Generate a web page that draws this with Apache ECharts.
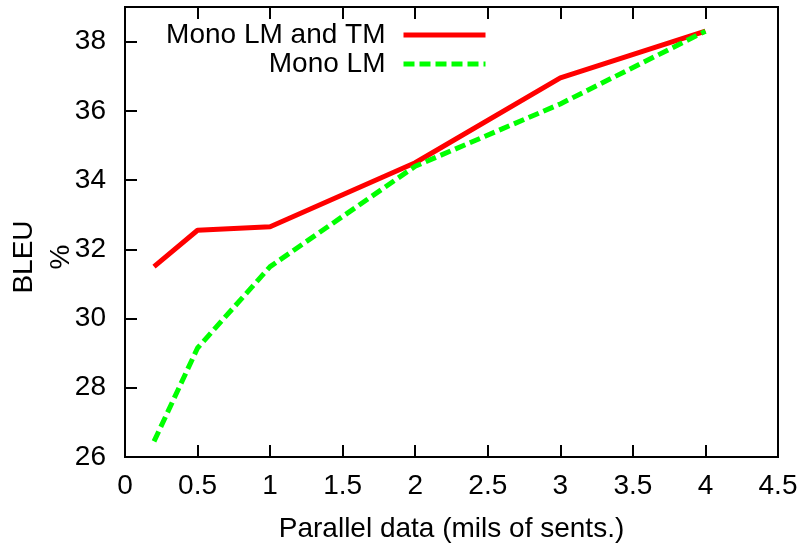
<!DOCTYPE html>
<html>
<head>
<meta charset="utf-8">
<script src="https://cdn.jsdelivr.net/npm/echarts@6/dist/echarts.min.js"></script>
<style>
  html, body { margin: 0; padding: 0; background: #fff; }
  #chart { width: 805px; height: 544px; }
</style>
</head>
<body>
<div id="chart"></div>
<script>
// data
const parallelData = [0.2, 0.5, 1, 2, 3, 4]
const monoLmTm = [31.5, 32.55, 32.65, 34.5, 36.95, 38.3]
const monoLm = [26.45, 29.15, 31.5, 34.4, 36.2, 38.3]
const seriesNames = ['Mono LM and TM', 'Mono LM']

const font = 'Liberation Sans, Arial, Helvetica, sans-serif'
const toPairs = (xs, ys) => xs.map((x, i) => [x, ys[i]])

const chart = echarts.init(document.getElementById('chart'))

const tickStyle = { inside: true, length: 12, lineStyle: { color: '#000', width: 2 } }
const lineAxis = { lineStyle: { color: '#000', width: 2 } }
const labelStyle = { color: '#000', fontSize: 28, fontFamily: font }

const legendItem = (name, top) => ({
  data: [name],
  orient: 'horizontal',
  align: 'right',
  right: 312,
  top,
  itemWidth: 82,
  itemHeight: 14,
  itemStyle: { opacity: 0 },
  lineStyle: { width: 5 },
  textStyle: { color: '#000', fontSize: 28, fontFamily: font, padding: [0, 13, 0, 0] },
  selectedMode: false
})

const option = {
  animation: false,
  backgroundColor: '#fff',
  grid: {
    left: 125,
    right: 27,
    top: 7,
    bottom: 87,
    containLabel: false,
    outerBoundsMode: 'none',
    show: true,
    borderColor: '#000',
    borderWidth: 2
  },
  legend: [legendItem(seriesNames[0], 16), legendItem(seriesNames[1], 45)],
  xAxis: [
    {
      type: 'value',
      min: 0,
      max: 4.5,
      interval: 0.5,
      name: 'Parallel data (mils of sents.)',
      nameLocation: 'middle',
      nameGap: 58,
      nameMoveOverlap: false,
      nameTextStyle: labelStyle,
      axisLine: lineAxis,
      axisTick: tickStyle,
      axisLabel: { ...labelStyle, margin: 15 },
      splitLine: { show: false }
    },
    {
      type: 'value',
      position: 'top',
      min: 0,
      max: 4.5,
      interval: 0.5,
      axisLine: lineAxis,
      axisTick: tickStyle,
      axisLabel: { show: false },
      splitLine: { show: false }
    }
  ],
  yAxis: {
    type: 'value',
    min: 26,
    max: 39,
    interval: 2,
    name: 'BLEU\n%',
    nameLocation: 'middle',
    nameRotate: 90,
    nameGap: 45,
    nameMoveOverlap: false,
    nameTextStyle: { ...labelStyle, lineHeight: 37, padding: [0, 50, 0, 0] },
    axisLine: lineAxis,
    axisTick: tickStyle,
    axisLabel: { ...labelStyle, margin: 19, showMaxLabel: false },
    splitLine: { show: false }
  },
  series: [
    {
      name: seriesNames[0],
      type: 'line',
      data: toPairs(parallelData, monoLmTm),
      symbol: 'none',
      color: '#ff0000',
      lineStyle: { color: '#ff0000', width: 5 }
    },
    {
      name: seriesNames[1],
      type: 'line',
      data: toPairs(parallelData, monoLm),
      symbol: 'none',
      color: '#00ff00',
      lineStyle: { color: '#00ff00', width: 5, type: [11, 5] }
    }
  ]
}

chart.setOption(option)
</script>
</body>
</html>
